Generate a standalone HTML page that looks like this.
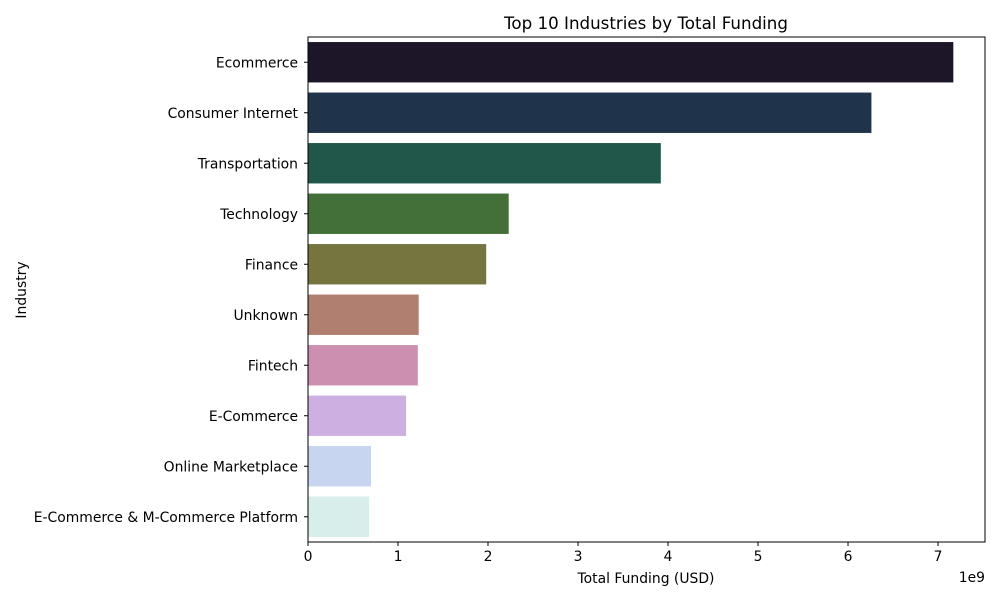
<!DOCTYPE html>
<html><head><meta charset="utf-8"><style>
body{margin:0;background:#fff;font-family:"Liberation Sans","DejaVu Sans",sans-serif;}
svg text{font-family:"DejaVu Sans","Liberation Sans",sans-serif;}
</style></head><body>
<svg id="chart" width="1000" height="600">
<text x="646" y="29" text-anchor="middle" font-size="16.7">Top 10 Industries by Total Funding</text>
<text x="646" y="583" text-anchor="middle" font-size="13.9">Total Funding (USD)</text>
<text x="26" y="290" text-anchor="middle" font-size="13.9" transform="rotate(-90 26 290)">Industry</text>
<text x="985" y="582" text-anchor="end" font-size="13.9">1e9</text>
<g id="bars"></g><g id="xt"></g><g id="yt"></g>
<rect x="308" y="37" width="677" height="505" fill="none" stroke="#000" stroke-width="1"/>
</svg>
<script>
const categories=["Ecommerce","Consumer Internet","Transportation","Technology","Finance","Unknown","Fintech","E-Commerce","Online Marketplace","E-Commerce & M-Commerce Platform"];
const values=[7.17,6.26,3.92,2.23,1.98,1.23,1.22,1.09,0.70,0.68];
const colors=["#1c1628","#1f344a","#21574a","#427038","#767540","#b07f6f","#cc8fb0","#cdb0e1","#c8d5f0","#d7eeea"];
const xTicks=[0,1,2,3,4,5,6,7];
const L=308,R=985,T=37,B=542,xMax=7.522;
const x=v=>L+v/xMax*(R-L);
const band=(B-T)/categories.length;
const ns="http://www.w3.org/2000/svg";
const mk=(t,a,p)=>{const e=document.createElementNS(ns,t);for(const k in a)e.setAttribute(k,a[k]);p.appendChild(e);return e;};
const gb=document.getElementById('bars'),gx=document.getElementById('xt'),gy=document.getElementById('yt');
categories.forEach((c,i)=>{
const cy=T+band*(i+0.5);
const r=mk('rect',{x:L,y:cy-band*0.4,width:x(values[i])-L,height:band*0.8,fill:colors[i]},gb);


mk('line',{x1:L-4,x2:L,y1:cy,y2:cy,stroke:'#000'},gy);
const t=mk('text',{x:L-10,y:cy+5,'text-anchor':'end','font-size':13.9},gy);
t.textContent=c;


});
xTicks.forEach(v=>{
const px=x(v);
mk('line',{x1:px,x2:px,y1:B,y2:B+4,stroke:'#000'},gx);
const t=mk('text',{x:px,y:B+19,'text-anchor':'middle','font-size':13.9},gx);
t.textContent=v;


});
</script>
</body></html>
